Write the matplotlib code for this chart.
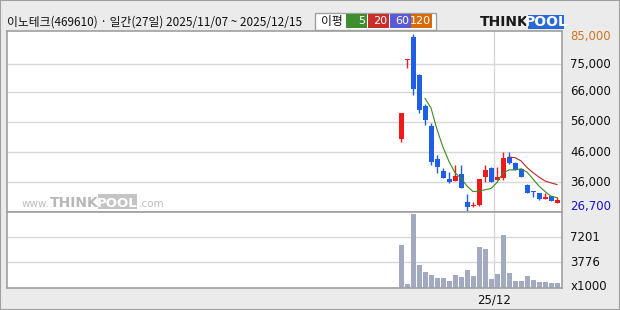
import numpy as np
import pandas as pd
import matplotlib
matplotlib.use('Agg')
import matplotlib.pyplot as plt
import matplotlib.transforms as mtransforms
from matplotlib.patches import Rectangle

plt.rcParams['font.family'] = ['Noto Sans CJK KR', 'DejaVu Sans']

# daily candles, 2025/11/07 ~ 2025/12/15 (27 trading days)
opens = [50300, 76400, 84100, 71500, 61200, 54600, 43800, 39800, 37200, 36600, 38700, 29500, 28100, 28600,
         37900, 40700, 36900, 37400, 44300, 42300, 40500, 35200, 33300, 32600, 30600, 31500, 29300]
highs = [58900, 76700, 85000, 71800, 61900, 55500, 45100, 40800, 39600, 41800, 41800, 32100, 29500, 37200,
         41800, 41200, 41200, 46200, 46200, 42900, 40900, 35500, 33300, 32600, 32600, 31500, 31300]
lows = [49500, 73700, 64900, 59000, 55100, 41800, 39000, 37600, 35700, 36600, 34100, 26700, 27800, 28300,
        36300, 36300, 36900, 36900, 42000, 40100, 37900, 32600, 31100, 30300, 30600, 29800, 29300]
closes = [58900, 76700, 66800, 59900, 56600, 42900, 41200, 37600, 36300, 38100, 34100, 27900, 28600, 37200,
          40100, 36300, 37900, 44200, 42300, 40100, 37900, 32600, 32800, 30600, 31300, 30000, 30200]
volumes = [6150, 800, 10400, 3400, 2450, 2040, 1630, 1630, 1210, 2040, 1760, 2720, 1900, 5870,
           5600, 1490, 2170, 7520, 2310, 1210, 1210, 1900, 1350, 1080, 1080, 940, 940]  # x1000

price_grid = [36000, 46000, 56000, 66000, 75000]
price_labels = ['36,000', '46,000', '56,000', '66,000', '75,000']
vol_grid = [3776, 7201]
month_break = 15.5
month_label = '25/12'

title = '이노테크(469610) · 일간(27일) 2025/11/07 ~ 2025/12/15'
ma_names = ['5', '20', '60', '120']
ma_colors = ['#3f8f2f', '#c9302c', '#5a5ad6', '#d96b0b']

up_color = '#f01a1a'
down_color = '#1f5ee6'

W, H = 620, 310


def px_rect(x0, y0, x1, y1):
    return [x0 / W, 1 - y1 / H, (x1 - x0) / W, (y1 - y0) / H]


def fx(x):
    return x / W


def fy(y):
    return 1 - y / H


fig = plt.figure(figsize=(6.2, 3.1), dpi=100, facecolor='#ebebeb')
fig.patches.append(Rectangle((0, 0), 1, 1, transform=fig.transFigure, fill=False,
                             edgecolor='#a0a0a0', lw=1.5))

ax = fig.add_axes(px_rect(7, 31, 562, 212.3))
axv = fig.add_axes(px_rect(7, 212.3, 562, 288))

o = np.array(opens)
h = np.array(highs)
l = np.array(lows)
c = np.array(closes)
x = np.arange(len(o))

for a in (ax, axv):
    a.set_facecolor('white')
    a.set_xticks([])
    a.set_yticks([])
    for s in a.spines.values():
        s.set_color('#a0a0a0')
        s.set_linewidth(1.2)
    a.set_xlim(-65.67, 26.83)
    a.axvline(month_break, color='#d8d8d8', lw=1, zorder=0)

ax.set_ylim(26160, 85990)
for g in price_grid:
    ax.axhline(g, color='#d8d8d8', lw=1, zorder=0)

# candles
up = c >= o
colors = np.where(up, up_color, down_color)
ax.vlines(x, l, h, colors=colors, lw=1, zorder=2)
body_lo = np.minimum(o, c)
body_h = np.maximum(np.abs(c - o), 300)
ax.bar(x, body_h, bottom=body_lo, width=0.83, color=colors, lw=0, zorder=3)

# moving averages
cs = pd.Series(closes)
ma5 = cs.rolling(5).mean()
ma20 = cs.rolling(20, min_periods=19).mean()
ax.plot(x, ma5, color='#3a8a22', lw=0.8, zorder=4)
ax.plot(x, ma20, color='#b8282a', lw=0.8, zorder=4)

# volume
axv.set_ylim(255, 10626)
for g in vol_grid:
    axv.axhline(g, color='#d8d8d8', lw=1, zorder=0)
axv.bar(x, volumes, width=0.83, color='#a1aac0', lw=0, zorder=2)

# right side labels
lbl_tr = mtransforms.blended_transform_factory(ax.transAxes, ax.transData)
off = mtransforms.ScaledTranslation(8 / 100, 0, fig.dpi_scale_trans)
for g, s in zip(price_grid, price_labels):
    ax.text(1.0, g, s, transform=lbl_tr + off, ha='left', va='center', fontsize=8.5,
            family='DejaVu Sans', color='#111111')
hi = h.max()
lo = l.min()
ax.text(1.0, hi, f'{hi:,}', transform=lbl_tr + off + mtransforms.ScaledTranslation(0, -3 / 100, fig.dpi_scale_trans),
        ha='left', va='center', fontsize=8.5, family='DejaVu Sans', color='#d2741e')
ax.text(1.0, lo, f'{lo:,}', transform=lbl_tr + off + mtransforms.ScaledTranslation(0, 4 / 100, fig.dpi_scale_trans),
        ha='left', va='center', fontsize=8.5, family='DejaVu Sans', color='#1515cc')

vtr = mtransforms.blended_transform_factory(axv.transAxes, axv.transData)
for g in vol_grid:
    axv.text(1.0, g, str(g), transform=vtr + off, ha='left', va='center', fontsize=8.5,
             family='DejaVu Sans', color='#111111')
fig.text(fx(571), fy(287), 'x1000', ha='left', va='center', fontsize=8.5, family='DejaVu Sans', color='#111111')
ax_tr = mtransforms.blended_transform_factory(axv.transData, fig.transFigure)
fig.text(month_break, fy(300), month_label, transform=ax_tr, ha='center', va='center', fontsize=8.5,
         family='DejaVu Sans', color='#111111')

# title
fig.text(fx(7), fy(22.5), title, ha='left', va='center', fontsize=8.5, color='#111111')

# MA legend box
fig.patches.append(Rectangle((fx(315), fy(29.7)), fx(121), 17 / H, transform=fig.transFigure,
                             facecolor='white', edgecolor='#a0a0a0', lw=1))
fig.text(fx(321), fy(21.5), '이평', ha='left', va='center', fontsize=8.5, color='#111111')
box_x = [346, 368, 390, 411]
for bx, name, col in zip(box_x, ma_names, ma_colors):
    fig.patches.append(Rectangle((fx(bx), fy(27.7)), fx(20.5), 13.4 / H, transform=fig.transFigure,
                                 facecolor=col, edgecolor='none'))
    fig.text(fx(bx + 19.5), fy(21.2), name, ha='right', va='center', fontsize=8, color='white',
             family='DejaVu Sans')

# logo
fig.text(fx(480), fy(22), 'THINK', ha='left', va='center', fontsize=10, fontweight='bold',
         family='DejaVu Sans', color='#1a1a1a')
fig.patches.append(Rectangle((fx(528), fy(29)), fx(36), 14 / H, transform=fig.transFigure,
                             facecolor='#2a6ad8', edgecolor='none'))
fig.text(fx(546), fy(22), 'POOL', ha='center', va='center', fontsize=10, fontweight='bold',
         family='DejaVu Sans', color='white')

# watermark
fig.text(fx(22), fy(207), 'www.', ha='left', va='baseline', fontsize=7.5, family='DejaVu Sans', color='#bdbdbd')
fig.text(fx(50), fy(207), 'THINK', ha='left', va='baseline', fontsize=10, fontweight='bold',
         family='DejaVu Sans', color='#b8b8b8')
fig.patches.append(Rectangle((fx(98), fy(209)), fx(39), 15 / H, transform=fig.transFigure,
                             facecolor='#c4c4c4', edgecolor='none'))
fig.text(fx(117.5), fy(207), 'POOL', ha='center', va='baseline', fontsize=9.5, fontweight='bold',
         family='DejaVu Sans', color='white')
fig.text(fx(139), fy(207), '.com', ha='left', va='baseline', fontsize=7.5, family='DejaVu Sans', color='#bdbdbd')

fig.savefig('out.png', dpi=100, facecolor=fig.get_facecolor())
